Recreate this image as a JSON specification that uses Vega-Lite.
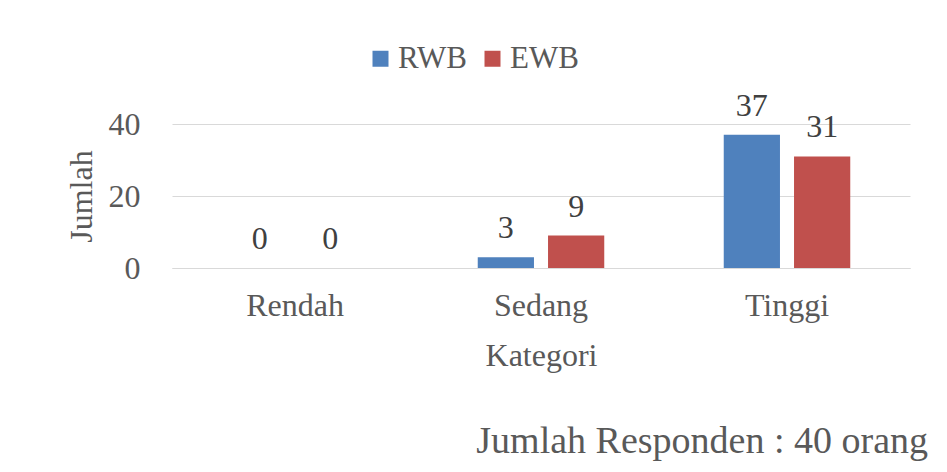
{
  "$schema": "https://vega.github.io/schema/vega-lite/v6.json",
  "autosize": {"type": "none"},
  "width": 738,
  "height": 144,
  "padding": {"left": 172, "top": 124, "right": 37, "bottom": 204},
  "background": "white",
  "config": {
    "view": {"stroke": null},
    "font": "Times New Roman, Liberation Serif, DejaVu Serif, serif",
    "text": {"font": "Times New Roman, Liberation Serif, DejaVu Serif, serif"}
  },
  "title": {
    "text": "Jumlah Responden : 40 orang",
    "orient": "bottom",
    "anchor": "end",
    "frame": "group",
    "dx": 18,
    "offset": 52,
    "fontSize": 38,
    "fontWeight": "normal",
    "color": "#595959",
    "font": "Times New Roman, Liberation Serif, DejaVu Serif, serif"
  },
  "data": {
    "values": [
      {"Kategori": "Rendah", "Seri": "RWB", "Jumlah": 0},
      {"Kategori": "Rendah", "Seri": "EWB", "Jumlah": 0},
      {"Kategori": "Sedang", "Seri": "RWB", "Jumlah": 3},
      {"Kategori": "Sedang", "Seri": "EWB", "Jumlah": 9},
      {"Kategori": "Tinggi", "Seri": "RWB", "Jumlah": 37},
      {"Kategori": "Tinggi", "Seri": "EWB", "Jumlah": 31}
    ]
  },
  "encoding": {
    "x": {
      "field": "Kategori",
      "type": "nominal",
      "sort": ["Rendah", "Sedang", "Tinggi"],
      "scale": {"paddingInner": 0, "paddingOuter": 0},
      "axis": {
        "title": "Kategori",
        "labelAngle": 0,
        "labelFontSize": 32,
        "labelColor": "#595959",
        "labelFont": "Times New Roman, Liberation Serif, DejaVu Serif, serif",
        "labelPadding": 22,
        "titleFontSize": 32,
        "titleColor": "#595959",
        "titleFont": "Times New Roman, Liberation Serif, DejaVu Serif, serif",
        "titleFontWeight": "normal",
        "titlePadding": 19,
        "ticks": false,
        "domainColor": "#d9d9d9",
        "domainWidth": 1
      }
    },
    "xOffset": {
      "field": "Seri",
      "type": "nominal",
      "sort": ["RWB", "EWB"],
      "scale": {"paddingInner": 0.2, "paddingOuter": 0.85}
    },
    "y": {
      "field": "Jumlah",
      "type": "quantitative",
      "scale": {"domain": [0, 40], "nice": false},
      "axis": {
        "title": "Jumlah",
        "values": [0, 20, 40],
        "labelFontSize": 32,
        "labelColor": "#595959",
        "labelFont": "Times New Roman, Liberation Serif, DejaVu Serif, serif",
        "labelPadding": 32,
        "titleFontSize": 32,
        "titleColor": "#595959",
        "titleFont": "Times New Roman, Liberation Serif, DejaVu Serif, serif",
        "titleFontWeight": "normal",
        "titlePadding": 10,
        "ticks": false,
        "domain": false,
        "gridColor": "#d9d9d9",
        "gridWidth": 1
      }
    }
  },
  "layer": [
    {
      "mark": {"type": "bar"},
      "encoding": {
        "color": {
          "field": "Seri",
          "type": "nominal",
          "sort": ["RWB", "EWB"],
          "scale": {"domain": ["RWB", "EWB"], "range": ["#4F81BD", "#C0504D"]},
          "legend": {
            "title": null,
            "orient": "none",
            "direction": "horizontal",
            "legendX": 193,
            "legendY": -81,
            "symbolType": "square",
            "symbolSize": 256,
            "symbolStrokeWidth": 0,
            "labelFontSize": 31,
            "labelFont": "Times New Roman, Liberation Serif, DejaVu Serif, serif",
            "labelColor": "#595959",
            "labelOffset": 2,
            "columnPadding": 10
          }
        }
      }
    },
    {
      "mark": {"type": "text", "baseline": "alphabetic", "dy": -19, "fontSize": 32, "color": "#404040", "font": "Times New Roman, Liberation Serif, DejaVu Serif, serif"},
      "encoding": {
        "text": {"field": "Jumlah", "type": "quantitative"}
      }
    }
  ]
}
